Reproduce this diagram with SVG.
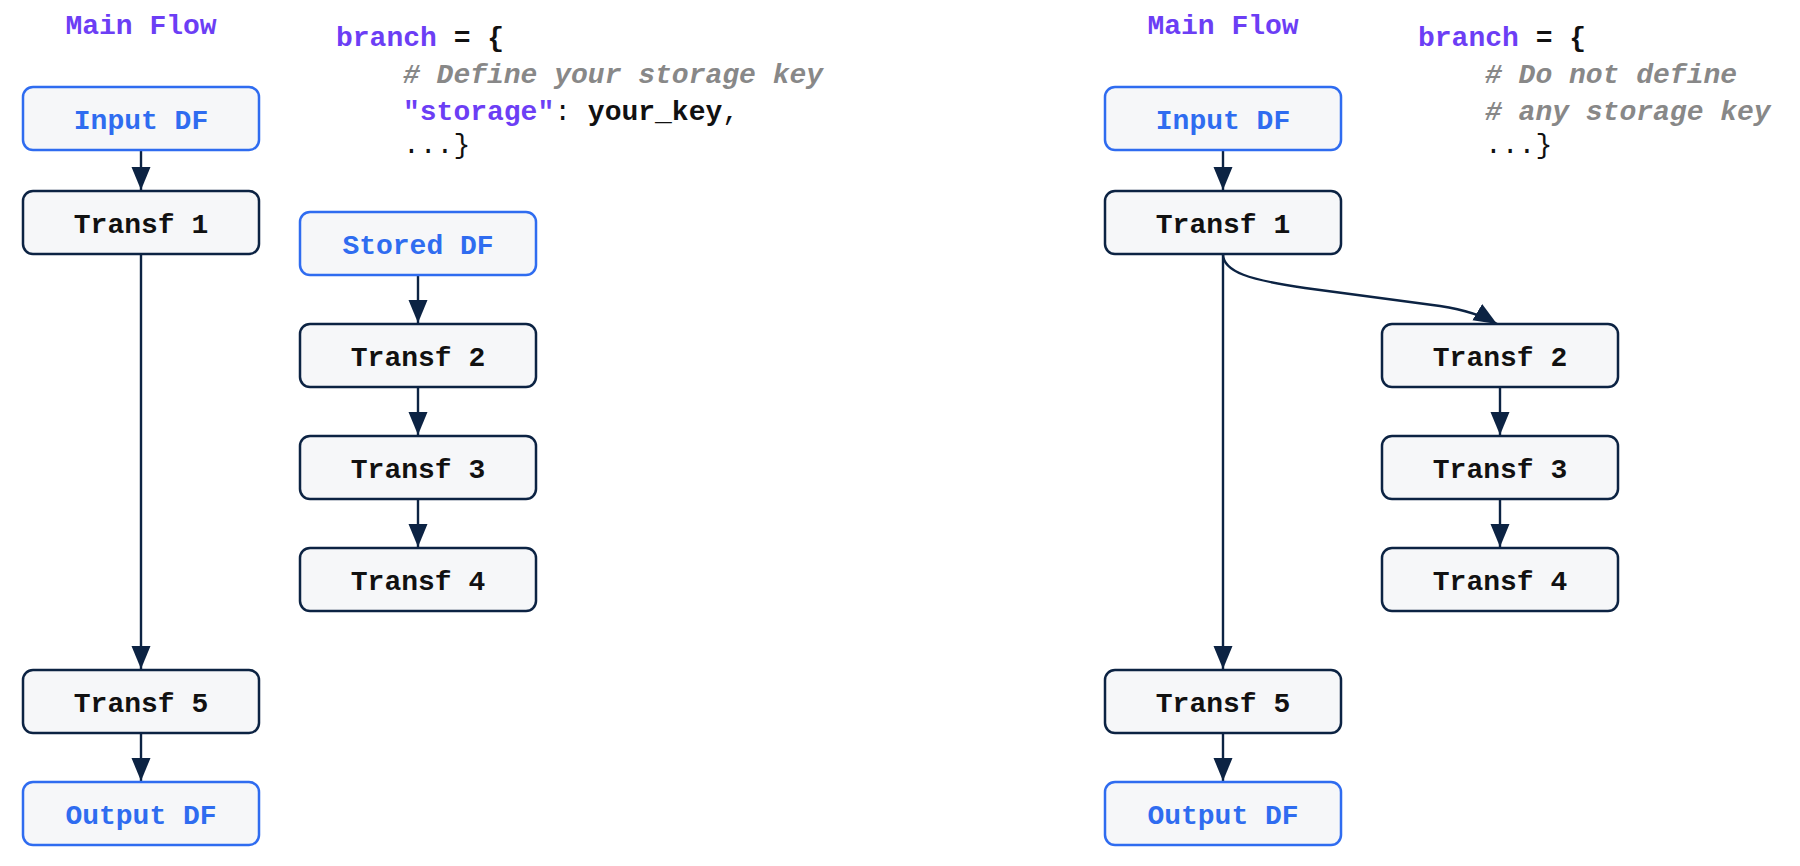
<svg xmlns="http://www.w3.org/2000/svg" width="1800" height="866" viewBox="0 0 1800 866">
<style>
  .box { fill: #f6f7f9; stroke-width: 2.5; }
  .io { stroke: #2f6cf0; }
  .tr { stroke: #0c2343; }
  .lbl { font-family: "Liberation Mono", "Courier New", monospace; font-size: 28px; font-weight: bold; text-anchor: middle; }
  .lio { fill: #2f6cf0; }
  .ltr { fill: #111111; }
  .title { font-family: "Liberation Mono", "Courier New", monospace; font-size: 28px; font-weight: bold; fill: #6c3ef5; text-anchor: middle; }
  .code { font-family: "Liberation Mono", "Courier New", monospace; font-size: 28px; fill: #111111; white-space: pre; }
  .kw { fill: #6c3ef5; font-weight: bold; }
  .b { font-weight: bold; }
  .cm { fill: #888888; font-style: italic; font-weight: bold; }
  .edge { fill: none; stroke: #0c2343; stroke-width: 2.4; }
</style>
<defs>
  <marker id="arr" markerUnits="userSpaceOnUse" markerWidth="24" markerHeight="20" refX="23" refY="9.5" orient="auto">
    <path d="M0,0 L23,9.5 L0,19 z" fill="#0c2343"/>
  </marker>
</defs>
<rect width="1800" height="866" fill="#ffffff"/>

<!-- Left panel texts -->
<text id="title-left" class="title" x="141" y="34">Main Flow</text>
<g id="code-left">
  <text class="code" x="336" y="46" xml:space="preserve"><tspan class="kw">branch</tspan><tspan class="b"> = {</tspan></text>
  <text class="code cm" x="403" y="83"># Define your storage key</text>
  <text class="code" x="403" y="120" xml:space="preserve"><tspan class="kw">"storage"</tspan>: <tspan class="b">your_key</tspan>,</text>
  <text class="code" x="403" y="153">...}</text>
</g>

<!-- Right panel texts -->
<text id="title-right" class="title" x="1223" y="34">Main Flow</text>
<g id="code-right">
  <text class="code" x="1418" y="46" xml:space="preserve"><tspan class="kw">branch</tspan><tspan class="b"> = {</tspan></text>
  <text class="code cm" x="1485" y="83"># Do not define</text>
  <text class="code cm" x="1485" y="120"># any storage key</text>
  <text class="code" x="1485" y="153">...}</text>
</g>

<!-- Connectors -->
<g id="connectors">
  <path class="edge" d="M141,150 L141,190" marker-end="url(#arr)"/>
  <path class="edge" d="M141,254 L141,669" marker-end="url(#arr)"/>
  <path class="edge" d="M141,733 L141,781" marker-end="url(#arr)"/>
  <path class="edge" d="M418,275 L418,323" marker-end="url(#arr)"/>
  <path class="edge" d="M418,387 L418,435" marker-end="url(#arr)"/>
  <path class="edge" d="M418,499 L418,547" marker-end="url(#arr)"/>

  <path class="edge" d="M1223,150 L1223,190" marker-end="url(#arr)"/>
  <path class="edge" d="M1223,254 L1223,669" marker-end="url(#arr)"/>
  <path class="edge" d="M1223,733 L1223,781" marker-end="url(#arr)"/>
  <path class="edge" d="M1223,254 C1223,272 1250,280 1305,288 L1440,306 C1465,310 1482,315 1497,324" marker-end="url(#arr)"/>
  <path class="edge" d="M1500,387 L1500,435" marker-end="url(#arr)"/>
  <path class="edge" d="M1500,499 L1500,547" marker-end="url(#arr)"/>
</g>

<!-- Left nodes -->
<g id="l-input"><rect class="box io" x="23" y="87" width="236" height="63" rx="10"/><text class="lbl lio" x="141" y="129">Input DF</text></g>
<g id="l-t1"><rect class="box tr" x="23" y="191" width="236" height="63" rx="10"/><text class="lbl ltr" x="141" y="233">Transf 1</text></g>
<g id="l-t5"><rect class="box tr" x="23" y="670" width="236" height="63" rx="10"/><text class="lbl ltr" x="141" y="712">Transf 5</text></g>
<g id="l-output"><rect class="box io" x="23" y="782" width="236" height="63" rx="10"/><text class="lbl lio" x="141" y="824">Output DF</text></g>
<g id="l-stored"><rect class="box io" x="300" y="212" width="236" height="63" rx="10"/><text class="lbl lio" x="418" y="254">Stored DF</text></g>
<g id="l-t2"><rect class="box tr" x="300" y="324" width="236" height="63" rx="10"/><text class="lbl ltr" x="418" y="366">Transf 2</text></g>
<g id="l-t3"><rect class="box tr" x="300" y="436" width="236" height="63" rx="10"/><text class="lbl ltr" x="418" y="478">Transf 3</text></g>
<g id="l-t4"><rect class="box tr" x="300" y="548" width="236" height="63" rx="10"/><text class="lbl ltr" x="418" y="590">Transf 4</text></g>

<!-- Right nodes -->
<g id="r-input"><rect class="box io" x="1105" y="87" width="236" height="63" rx="10"/><text class="lbl lio" x="1223" y="129">Input DF</text></g>
<g id="r-t1"><rect class="box tr" x="1105" y="191" width="236" height="63" rx="10"/><text class="lbl ltr" x="1223" y="233">Transf 1</text></g>
<g id="r-t5"><rect class="box tr" x="1105" y="670" width="236" height="63" rx="10"/><text class="lbl ltr" x="1223" y="712">Transf 5</text></g>
<g id="r-output"><rect class="box io" x="1105" y="782" width="236" height="63" rx="10"/><text class="lbl lio" x="1223" y="824">Output DF</text></g>
<g id="r-t2"><rect class="box tr" x="1382" y="324" width="236" height="63" rx="10"/><text class="lbl ltr" x="1500" y="366">Transf 2</text></g>
<g id="r-t3"><rect class="box tr" x="1382" y="436" width="236" height="63" rx="10"/><text class="lbl ltr" x="1500" y="478">Transf 3</text></g>
<g id="r-t4"><rect class="box tr" x="1382" y="548" width="236" height="63" rx="10"/><text class="lbl ltr" x="1500" y="590">Transf 4</text></g>
</svg>
